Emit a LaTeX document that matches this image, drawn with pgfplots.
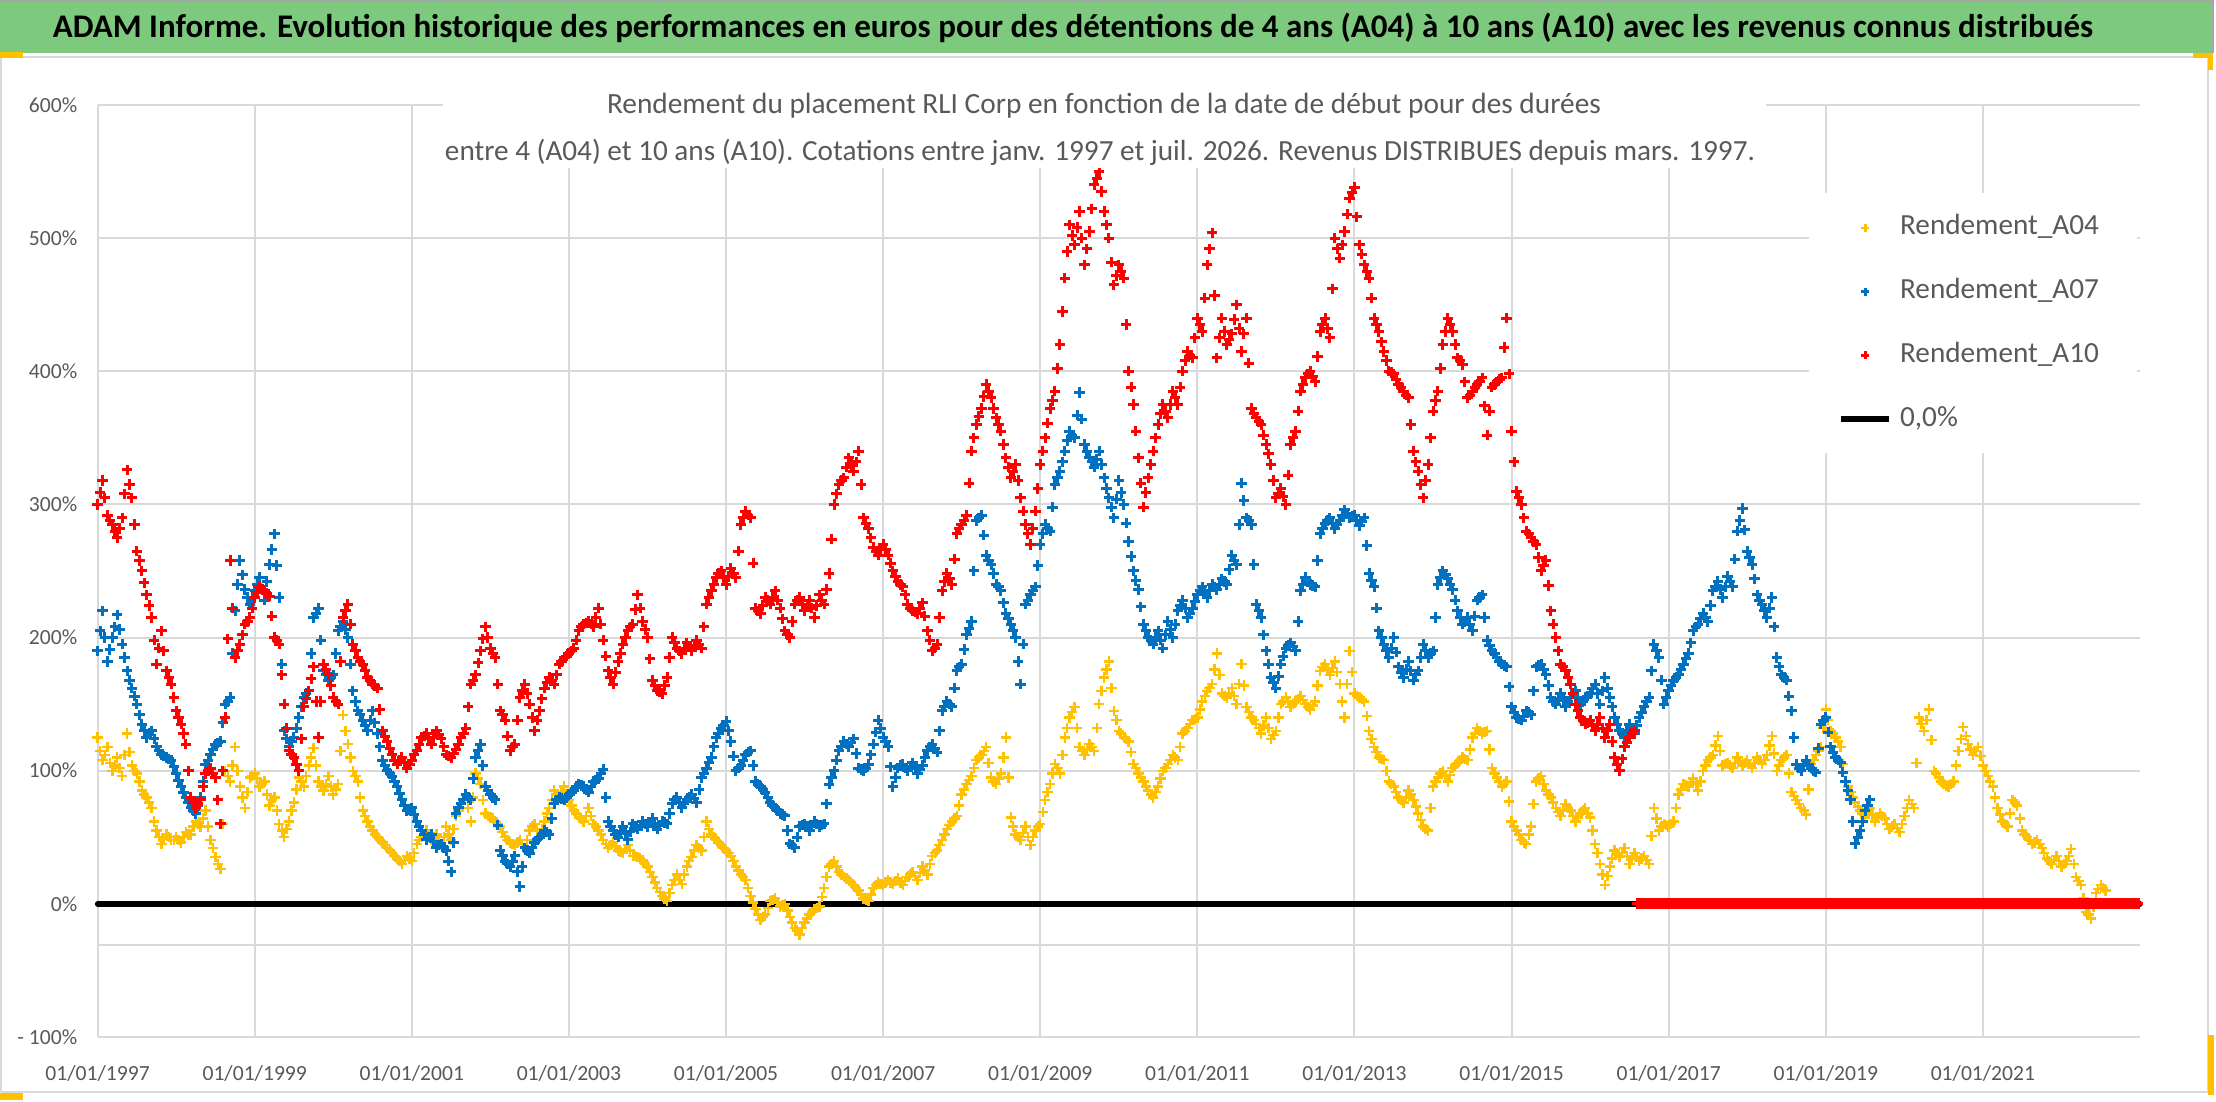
\documentclass[border=0pt]{standalone}
\usepackage{fontspec}
\setmainfont{Carlito}
\usepackage{graphicx}
\usepackage{pgfplots}
\usepackage{pgfplotstable}
\pgfplotsset{compat=1.18}
\definecolor{cA04}{HTML}{FFC000}
\definecolor{cA07}{HTML}{0070C0}
\definecolor{cA10}{HTML}{FF0000}
\definecolor{txtgray}{HTML}{595959}
\definecolor{gridgray}{HTML}{D9D9D9}
\definecolor{barGreen}{RGB}{125,201,126}
\definecolor{handle}{HTML}{FFC000}
\pgfplotsset{
  mlegend/.style={legend image code/.code={\draw[mark repeat=2,mark phase=2,mark size=1pt,##1] plot coordinates {(0pt,0pt) (6pt,0pt) (12pt,0pt)};}},
  linelegend/.style={legend image code/.code={\draw[##1] (0pt,0pt) -- (12pt,0pt);}},
  sA04/.style={only marks, mark=+, mark size=1.3pt, color=cA04, mark options={line width=0.6pt}},
  sA07/.style={only marks, mark=+, mark size=1.3pt, color=cA07, mark options={line width=0.75pt}},
  sA10/.style={only marks, mark=+, mark size=1.3pt, color=cA10, mark options={line width=0.75pt}},
}

% Rendement_A04: values every 1/16 year from 01/01/1997
\pgfplotstableread[row sep=\\]{
y\\%
125\\108\\118\\100\\110\\96\\128\\104\\98\\85\\80\\72\\55\\45\\52\\48\\%
50\\46\\54\\52\\62\\58\\70\\48\\35\\26\\100\\92\\118\\88\\72\\95\\%
98\\88\\92\\74\\80\\60\\50\\62\\76\\95\\88\\104\\117\\92\\85\\96\\%
82\\90\\142\\120\\100\\92\\70\\62\\55\\50\\46\\42\\38\\34\\30\\36\\%
32\\45\\50\\55\\48\\52\\44\\58\\48\\66\\75\\82\\62\\98\\90\\68\\%
65\\62\\58\\50\\46\\44\\48\\42\\55\\60\\50\\62\\72\\85\\80\\88\\%
78\\70\\65\\62\\72\\60\\55\\48\\42\\46\\40\\38\\44\\36\\35\\33\\%
28\\20\\12\\6\\2\\14\\22\\15\\28\\35\\44\\40\\62\\52\\48\\44\\%
40\\36\\28\\22\\18\\6\\-4\\-12\\-8\\2\\4\\-2\\0\\-10\\-18\\-23\\%
-14\\-8\\-4\\-2\\12\\28\\32\\24\\20\\18\\14\\10\\4\\2\\12\\16\\%
14\\18\\15\\19\\14\\20\\24\\18\\28\\22\\36\\40\\48\\56\\62\\66\\%
82\\90\\96\\108\\112\\118\\95\\90\\98\\125\\65\\52\\48\\58\\44\\55\\%
60\\78\\90\\105\\98\\125\\140\\148\\118\\112\\120\\115\\150\\170\\182\\145\\%
130\\125\\122\\105\\98\\92\\85\\80\\88\\100\\105\\112\\108\\128\\132\\138\\%
140\\152\\160\\165\\188\\158\\155\\162\\150\\180\\148\\140\\135\\128\\140\\124\\%
130\\150\\155\\148\\152\\156\\150\\146\\152\\175\\180\\172\\182\\165\\140\\190\\%
158\\155\\152\\130\\118\\110\\108\\92\\88\\80\\76\\85\\78\\68\\58\\55\\%
88\\95\\100\\92\\102\\106\\110\\108\\125\\132\\128\\130\\102\\95\\88\\92\\%
62\\55\\48\\45\\58\\92\\96\\85\\80\\72\\66\\75\\70\\62\\68\\72\\%
65\\45\\30\\14\\28\\40\\35\\42\\30\\38\\32\\36\\30\\72\\55\\60\\%
58\\62\\82\\90\\88\\94\\85\\100\\108\\112\\126\\104\\106\\102\\110\\104\\%
108\\102\\110\\105\\112\\126\\100\\108\\112\\84\\78\\72\\67\\105\\112\\118\\%
146\\130\\125\\118\\92\\84\\76\\70\\65\\72\\62\\68\\64\\56\\60\\54\\%
66\\78\\72\\140\\130\\146\\100\\95\\90\\88\\92\\115\\133\\120\\112\\118\\%
104\\96\\88\\72\\62\\58\\78\\74\\55\\50\\45\\48\\42\\34\\30\\36\\%
28\\32\\41\\20\\14\\-6\\-11\\8\\14\\10\\%
}\tA
% Rendement_A04: in-between values (1/32 year later)
\pgfplotstableread[row sep=\\]{
y\\%
115\\112\\106\\104\\102\\112\\114\\100\\92\\82\\76\\62\\50\\49\\50\\48\\%
48\\50\\52\\58\\60\\64\\58\\42\\30\\60\\96\\104\\100\\80\\84\\96\\%
94\\90\\82\\78\\70\\55\\56\\70\\86\\92\\96\\110\\104\\88\\90\\88\\%
86\\115\\130\\110\\96\\80\\66\\58\\52\\48\\44\\40\\36\\32\\33\\34\\%
38\\48\\52\\50\\50\\48\\50\\52\\56\\70\\78\\72\\80\\94\\78\\66\\%
64\\60\\54\\48\\45\\46\\45\\48\\58\\55\\56\\68\\78\\82\\84\\82\\%
74\\68\\64\\66\\66\\58\\52\\45\\44\\43\\39\\41\\40\\36\\34\\30\\%
24\\16\\9\\4\\8\\18\\18\\22\\32\\40\\42\\50\\56\\50\\46\\42\\%
38\\32\\25\\20\\12\\1\\-8\\-10\\-3\\3\\1\\-1\\-5\\-14\\-20\\-18\\%
-11\\-6\\-3\\5\\20\\30\\28\\22\\19\\16\\12\\7\\3\\7\\14\\15\\%
16\\16\\17\\16\\17\\22\\21\\23\\25\\30\\38\\44\\52\\59\\64\\74\\%
86\\93\\102\\110\\115\\106\\92\\94\\110\\95\\58\\50\\53\\50\\50\\58\\%
69\\84\\98\\102\\112\\132\\144\\132\\115\\116\\118\\132\\160\\176\\162\\138\\%
128\\124\\114\\102\\95\\88\\82\\84\\94\\102\\108\\110\\118\\130\\135\\139\\%
146\\156\\162\\176\\172\\156\\158\\156\\165\\164\\144\\138\\132\\134\\132\\127\\%
140\\152\\152\\150\\154\\153\\148\\149\\164\\178\\176\\177\\174\\152\\165\\174\\%
156\\154\\141\\124\\114\\109\\100\\90\\84\\78\\80\\82\\73\\63\\56\\72\\%
92\\98\\96\\97\\104\\108\\109\\116\\128\\130\\129\\116\\98\\92\\90\\77\\%
58\\52\\46\\52\\75\\94\\90\\82\\76\\69\\70\\72\\66\\65\\70\\68\\%
55\\38\\22\\21\\34\\38\\38\\36\\34\\35\\34\\33\\51\\64\\58\\59\\%
60\\72\\86\\89\\91\\90\\92\\104\\110\\119\\115\\105\\104\\106\\107\\106\\%
105\\106\\108\\108\\119\\113\\104\\110\\98\\81\\75\\70\\86\\108\\115\\132\\%
138\\128\\122\\105\\88\\80\\73\\68\\68\\67\\65\\66\\60\\58\\57\\60\\%
72\\75\\106\\135\\138\\123\\98\\92\\89\\90\\104\\124\\126\\116\\115\\111\\%
100\\92\\80\\67\\60\\68\\76\\64\\52\\48\\46\\45\\38\\32\\33\\32\\%
30\\36\\30\\17\\4\\-8\\-2\\11\\12\\%
}\tAm

% Rendement_A07
\pgfplotstableread[row sep=\\]{
y\\%
190\\220\\182\\200\\217\\195\\175\\162\\150\\135\\125\\130\\118\\112\\110\\108\\%
98\\88\\80\\72\\68\\80\\105\\112\\120\\122\\150\\155\\220\\258\\236\\225\\%
235\\245\\228\\255\\278\\230\\130\\118\\125\\140\\155\\160\\215\\222\\175\\168\\%
172\\205\\212\\200\\160\\145\\138\\130\\145\\128\\108\\100\\96\\88\\78\\70\\%
72\\62\\55\\48\\52\\42\\45\\40\\24\\68\\75\\82\\78\\110\\120\\88\\%
82\\78\\40\\32\\28\\36\\13\\42\\38\\46\\50\\55\\52\\75\\80\\78\\%
82\\85\\90\\88\\84\\92\\94\\101\\62\\55\\50\\58\\48\\60\\56\\62\\%
58\\64\\56\\62\\60\\75\\80\\72\\78\\82\\76\\95\\102\\110\\125\\132\\%
137\\122\\100\\104\\112\\115\\92\\88\\84\\76\\72\\68\\66\\45\\42\\58\\%
60\\55\\62\\58\\60\\90\\100\\115\\122\\118\\124\\102\\100\\105\\120\\138\\%
125\\118\\88\\102\\105\\100\\106\\98\\104\\115\\120\\114\\145\\152\\148\\175\\%
180\\202\\212\\288\\292\\262\\255\\240\\235\\218\\210\\200\\165\\225\\232\\238\\%
270\\285\\280\\315\\325\\340\\355\\350\\384\\345\\335\\328\\340\\320\\305\\290\\%
318\\300\\272\\250\\236\\210\\200\\195\\205\\192\\212\\200\\220\\228\\215\\222\\%
232\\238\\230\\240\\236\\244\\240\\262\\255\\316\\290\\285\\225\\215\\190\\170\\%
162\\180\\192\\196\\190\\235\\245\\240\\238\\278\\286\\290\\282\\288\\296\\290\\%
292\\284\\290\\248\\238\\205\\195\\185\\200\\178\\170\\182\\168\\175\\195\\185\\%
190\\240\\250\\244\\236\\220\\210\\215\\205\\228\\232\\198\\190\\185\\180\\178\\%
148\\140\\138\\145\\142\\178\\180\\172\\155\\150\\158\\148\\155\\160\\150\\155\\%
158\\165\\150\\170\\155\\140\\130\\125\\135\\128\\140\\148\\155\\195\\185\\150\\%
160\\168\\172\\180\\188\\205\\210\\218\\212\\235\\242\\230\\246\\238\\280\\297\\%
265\\255\\232\\225\\215\\230\\185\\172\\168\\145\\105\\100\\108\\102\\99\\135\\%
140\\118\\110\\106\\92\\78\\45\\55\\70\\78\\%
}\tB
\pgfplotstableread[row sep=\\]{
y\\%
205\\200\\191\\208\\206\\185\\168\\156\\142\\130\\128\\124\\115\\111\\109\\103\\%
93\\84\\76\\70\\74\\92\\108\\116\\121\\136\\152\\188\\240\\247\\230\\230\\%
240\\236\\242\\266\\254\\180\\124\\122\\132\\148\\158\\188\\218\\198\\172\\170\\%
188\\208\\206\\180\\152\\142\\134\\138\\136\\118\\104\\98\\92\\83\\74\\71\\%
67\\58\\52\\50\\47\\44\\42\\32\\46\\72\\78\\80\\94\\115\\104\\85\\%
80\\59\\36\\30\\32\\24\\28\\40\\42\\48\\52\\54\\64\\78\\79\\80\\%
84\\88\\89\\86\\88\\93\\98\\80\\58\\52\\54\\53\\54\\58\\59\\60\\%
61\\60\\59\\61\\68\\78\\76\\75\\80\\79\\86\\98\\106\\118\\128\\134\\%
130\\111\\102\\108\\114\\104\\90\\86\\80\\74\\70\\67\\55\\44\\50\\59\\%
58\\58\\60\\59\\75\\95\\108\\118\\120\\121\\113\\101\\102\\112\\129\\132\\%
122\\103\\95\\104\\102\\103\\102\\101\\110\\118\\117\\130\\148\\150\\162\\178\\%
191\\207\\250\\290\\277\\258\\248\\238\\226\\214\\205\\182\\195\\228\\235\\254\\%
278\\282\\298\\320\\332\\348\\352\\367\\364\\340\\332\\334\\330\\312\\298\\304\\%
309\\286\\261\\243\\223\\205\\198\\200\\198\\202\\206\\210\\224\\222\\218\\227\\%
235\\234\\235\\238\\240\\242\\251\\258\\285\\303\\288\\255\\220\\202\\180\\166\\%
171\\186\\194\\193\\212\\240\\242\\239\\258\\282\\288\\286\\285\\292\\293\\291\\%
288\\287\\269\\243\\222\\200\\190\\192\\189\\174\\176\\175\\172\\185\\190\\188\\%
215\\245\\247\\240\\228\\215\\212\\210\\216\\230\\215\\194\\188\\182\\179\\163\\%
144\\139\\141\\144\\160\\179\\176\\164\\152\\154\\153\\152\\158\\155\\152\\156\\%
162\\158\\160\\162\\148\\135\\128\\130\\132\\134\\144\\152\\175\\190\\168\\155\\%
164\\170\\176\\184\\196\\208\\214\\215\\224\\238\\236\\238\\242\\259\\288\\281\\%
260\\244\\228\\220\\222\\208\\178\\170\\156\\125\\102\\104\\105\\100\\117\\138\\%
129\\114\\108\\99\\85\\62\\50\\62\\74\\%
}\tBm

% Rendement_A10 (known values up to mid-2016)
\pgfplotstableread[row sep=\\]{
y\\%
300\\318\\292\\285\\275\\290\\326\\305\\265\\250\\232\\215\\180\\205\\175\\165\\%
145\\135\\120\\80\\72\\78\\98\\102\\95\\60\\140\\258\\185\\195\\210\\215\\%
230\\238\\235\\231\\200\\195\\150\\115\\110\\100\\148\\160\\178\\125\\180\\172\\%
155\\150\\215\\225\\195\\185\\180\\170\\165\\162\\130\\122\\112\\105\\110\\102\\%
108\\115\\125\\128\\120\\130\\124\\112\\110\\116\\125\\132\\165\\172\\190\\208\\%
192\\185\\145\\138\\115\\120\\155\\165\\150\\130\\145\\162\\170\\165\\180\\185\\%
188\\192\\205\\210\\212\\208\\222\\198\\175\\165\\182\\195\\205\\210\\232\\212\\%
200\\168\\160\\158\\170\\200\\192\\188\\196\\190\\198\\192\\225\\235\\245\\250\\%
240\\252\\245\\285\\295\\290\\222\\218\\230\\225\\235\\222\\205\\200\\225\\230\\%
220\\228\\215\\232\\225\\248\\300\\315\\320\\335\\325\\340\\290\\282\\268\\262\\%
270\\262\\250\\242\\238\\225\\220\\218\\226\\205\\190\\195\\235\\248\\240\\278\\%
285\\292\\340\\360\\372\\390\\380\\365\\355\\335\\320\\330\\305\\285\\270\\295\\%
330\\350\\372\\385\\420\\470\\510\\495\\520\\480\\505\\540\\550\\520\\500\\465\\%
480\\470\\400\\375\\335\\298\\320\\340\\360\\375\\365\\385\\375\\400\\415\\410\\%
440\\430\\480\\504\\410\\440\\420\\428\\450\\415\\440\\372\\365\\360\\345\\330\\%
305\\312\\300\\345\\355\\385\\395\\400\\392\\430\\440\\425\\500\\485\\505\\530\\%
538\\495\\480\\470\\440\\430\\415\\400\\398\\390\\385\\380\\340\\325\\305\\330\\%
370\\385\\420\\440\\430\\410\\405\\380\\385\\390\\395\\352\\388\\392\\395\\440\\%
355\\310\\300\\280\\275\\270\\250\\258\\220\\200\\180\\175\\165\\150\\140\\135\\%
138\\130\\140\\125\\135\\110\\100\\118\\125\\130\\%
}\tC
\pgfplotstableread[row sep=\\]{
y\\%
309\\305\\288\\280\\282\\308\\315\\285\\258\\241\\224\\198\\192\\190\\170\\155\\%
140\\128\\100\\76\\75\\88\\100\\98\\78\\100\\199\\222\\190\\202\\212\\222\\%
234\\236\\233\\216\\198\\172\\132\\112\\105\\124\\154\\169\\152\\152\\176\\164\\%
152\\182\\220\\210\\190\\182\\175\\168\\164\\146\\126\\117\\108\\108\\106\\105\\%
112\\120\\126\\124\\125\\127\\118\\111\\113\\120\\128\\148\\168\\181\\199\\200\\%
188\\165\\142\\126\\118\\138\\160\\158\\140\\138\\154\\166\\168\\172\\182\\186\\%
190\\198\\208\\211\\210\\215\\210\\186\\170\\174\\188\\200\\208\\221\\222\\206\\%
184\\164\\159\\164\\185\\196\\190\\192\\193\\194\\195\\208\\230\\240\\248\\245\\%
246\\248\\265\\290\\292\\256\\220\\224\\228\\230\\228\\214\\202\\212\\228\\225\\%
224\\222\\224\\228\\236\\274\\308\\318\\328\\330\\332\\315\\286\\275\\265\\266\\%
266\\256\\246\\240\\232\\222\\219\\222\\216\\198\\192\\215\\242\\244\\259\\282\\%
288\\316\\350\\366\\381\\385\\372\\360\\345\\328\\325\\318\\295\\278\\282\\312\\%
340\\361\\378\\402\\445\\490\\502\\508\\500\\492\\522\\545\\535\\510\\482\\472\\%
475\\435\\388\\355\\316\\309\\330\\350\\368\\370\\375\\380\\388\\408\\412\\425\\%
435\\455\\492\\457\\425\\430\\424\\439\\432\\428\\406\\368\\362\\352\\338\\318\\%
308\\306\\322\\350\\370\\390\\398\\396\\411\\435\\432\\462\\492\\495\\518\\534\\%
516\\488\\475\\455\\435\\422\\408\\399\\394\\388\\382\\360\\332\\315\\318\\350\\%
378\\402\\430\\435\\420\\408\\392\\382\\388\\392\\374\\370\\390\\394\\418\\398\\%
332\\305\\290\\278\\272\\260\\254\\239\\210\\190\\178\\170\\158\\145\\138\\136\\%
134\\135\\132\\130\\122\\105\\109\\121\\128\\%
}\tCm
% Rendement_A10 = 0 from mid-2016 (one value every 1/40 year)
\pgfplotstableread[row sep=\\]{
y\\%
0\\0\\0\\0\\0\\0\\0\\0\\0\\0\\0\\0\\0\\0\\0\\0\\%
0\\0\\0\\0\\0\\0\\0\\0\\0\\0\\0\\0\\0\\0\\0\\0\\%
0\\0\\0\\0\\0\\0\\0\\0\\0\\0\\0\\0\\0\\0\\0\\0\\%
0\\0\\0\\0\\0\\0\\0\\0\\0\\0\\0\\0\\0\\0\\0\\0\\%
0\\0\\0\\0\\0\\0\\0\\0\\0\\0\\0\\0\\0\\0\\0\\0\\%
0\\0\\0\\0\\0\\0\\0\\0\\0\\0\\0\\0\\0\\0\\0\\0\\%
0\\0\\0\\0\\0\\0\\0\\0\\0\\0\\0\\0\\0\\0\\0\\0\\%
0\\0\\0\\0\\0\\0\\0\\0\\0\\0\\0\\0\\0\\0\\0\\0\\%
0\\0\\0\\0\\0\\0\\0\\0\\0\\0\\0\\0\\0\\0\\0\\0\\%
0\\0\\0\\0\\0\\0\\0\\0\\0\\0\\0\\0\\0\\0\\0\\0\\%
0\\0\\0\\0\\0\\0\\0\\0\\0\\0\\0\\0\\0\\0\\0\\0\\%
0\\0\\0\\0\\0\\0\\0\\0\\0\\0\\0\\0\\0\\0\\0\\0\\%
0\\0\\0\\0\\0\\0\\0\\0\\0\\0\\0\\0\\0\\0\\0\\0\\%
0\\0\\0\\0\\0\\0\\0\\0\\0\\0\\0\\0\\0\\0\\0\\0\\%
0\\0\\0\\0\\0\\0\\0\\0\\0\\0\\0\\0\\0\\0\\0\\0\\%
0\\0\\0\\0\\0\\0\\0\\0\\0\\0\\0\\0\\0\\0\\0\\0\\%
}\tCz

\begin{document}
\begin{tikzpicture}[x=1pt,y=1pt]
\useasboundingbox (0,0) rectangle (554,275.5);
\fill[white] (0,0) rectangle (554,275.5);
% chart frame
\draw[gridgray, line width=0.5pt] (0.3,2.5) -- (552,2.5) -- (552,261.25);
\draw[gridgray, line width=0.5pt] (0.3,2.5) -- (0.3,261.25);
\draw[gridgray, line width=0.6pt] (0,261.25) -- (552,261.25);
% green title bar
\fill[barGreen] (0,262.25) rectangle (553.25,275.5);
\draw[gray!70, line width=0.5pt] (0,275.25) -- (553.25,275.25) -- (553.25,262.25);
\node[inner sep=0pt] at (268.25,268.5) {\resizebox{510pt}{!}{\bfseries ADAM Informe. Evolution historique des performances en euros pour des détentions de 4 ans (A04) à 10 ans (A10) avec les revenus connus distribués}};
% selection handles
\fill[handle] (0,261) rectangle (5.75,262.5);
\fill[handle] (0,0.5) rectangle (5.75,2.25);
\fill[handle] (548.25,261) rectangle (553.25,262.3);
\fill[handle] (551.9,258) rectangle (553.25,262.3);
\fill[handle] (551.9,1.75) rectangle (553.5,16.75);

\begin{axis}[
  at={(24.4pt,16.25pt)}, anchor=south west,
  scale only axis, width=510.6pt, height=233pt,
  xmin=1997, xmax=2023, ymin=-100, ymax=600,
  axis line style={draw=none},
  tick style={draw=none},
  grid=major,
  major grid style={draw=gridgray, line width=0.5pt},
  xtick={1997,1999,...,2021},
  xticklabels={01/01/1997,01/01/1999,01/01/2001,01/01/2003,01/01/2005,01/01/2007,01/01/2009,01/01/2011,01/01/2013,01/01/2015,01/01/2017,01/01/2019,01/01/2021},
  ytick={-100,0,100,200,300,400,500,600},
  yticklabels={- 100\%,0\%,100\%,200\%,300\%,400\%,500\%,600\%},
  extra y ticks={-31}, extra y tick labels={},
  extra y tick style={grid=major, major grid style={draw=gridgray, line width=0.5pt}},
  ticklabel style={font=\fontsize{5.4}{6.5}\selectfont, text=txtgray},
  xticklabel style={anchor=center, inner sep=0pt, yshift=-9pt},
  yticklabel style={anchor=east, inner sep=0pt, xshift=-4.9pt},
  clip=false,
  legend style={at={(0.8374,0.906)}, anchor=north west, draw=none, fill=white,
    font=\fontsize{7.3}{8.8}\selectfont, text=txtgray,
    inner xsep=7.5pt, inner ysep=3.3pt, row sep=5.4pt},
  legend cell align=left,
]
\addplot[black, line width=1.35pt, line cap=round, forget plot] coordinates {(1997,0) (2023,0)};
\addplot[sA04, mlegend] table[x expr=1997+\coordindex/16, y=y] {\tA};
\addlegendentry{Rendement\_A04}
\addplot[sA04, forget plot] table[x expr=1997.03125+\coordindex/16, y=y] {\tAm};
\addplot[sA07, mlegend] table[x expr=1997+\coordindex/16, y=y] {\tB};
\addlegendentry{Rendement\_A07}
\addplot[sA07, forget plot] table[x expr=1997.03125+\coordindex/16, y=y] {\tBm};
\addplot[sA10, mlegend] table[x expr=1997+\coordindex/16, y=y] {\tC};
\addlegendentry{Rendement\_A10}
\addplot[sA10, forget plot] table[x expr=1997.03125+\coordindex/16, y=y] {\tCm};
\addplot[sA10, mark size=1.35pt, mark options={line width=0.8pt}, forget plot] table[x expr=2016.6+\coordindex/40, y=y] {\tCz};
\addlegendimage{black, line width=1.35pt, linelegend}
\addlegendentry{0,0\%}
\end{axis}

% chart title (subtitle) on white
\fill[white] (110.75,233.5) rectangle (441.5,257);
\node[inner sep=0pt, text=txtgray] at (276,249) {\resizebox{248.5pt}{!}{Rendement du placement RLI Corp en fonction de la date de début pour des durées}};
\node[inner sep=0pt, text=txtgray] at (275,237.5) {\resizebox{327.5pt}{!}{entre 4 (A04) et 10 ans (A10). Cotations entre janv. 1997 et juil. 2026. Revenus DISTRIBUES depuis mars. 1997.}};
\end{tikzpicture}
\end{document}
